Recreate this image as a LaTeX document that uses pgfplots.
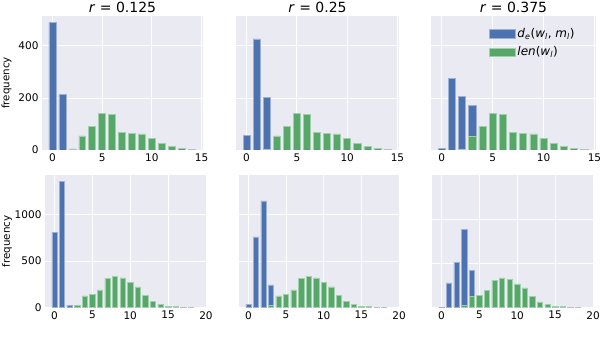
\documentclass[border=0pt]{standalone}
\usepackage{fontspec}
\setmainfont{DejaVu Sans}
\usepackage{pgfplots}
\usepackage{pgfplotstable}
\pgfplotsset{compat=1.18}

\definecolor{sbblue}{HTML}{4C72B0}
\definecolor{sbgreen}{HTML}{55A868}
\definecolor{sbbg}{HTML}{EAEAF2}

% len(w_l), same in every panel of a row
\pgfplotstableread{
x y
2 4
3 54
4 90
5 141
6 138
7 69
8 64
9 62
10 46
11 25
12 13
13 5
14 3
}\lentop
\pgfplotstableread{
x y
3 27
4 128
5 140
6 192
7 312
8 337
9 320
10 270
11 224
12 130
13 66
14 35
15 17
16 13
17 6
18 4
}\lenbot

% d_e(w_l, m_l)
\pgfplotstableread{
x y
0 490
1 213
}\dA
\pgfplotstableread{
x y
0 56
1 427
2 203
}\dB
\pgfplotstableread{
x y
0 5
1 276
2 205
3 172
}\dC
\pgfplotstableread{
x y
0 805
1 1355
2 25
}\dD
\pgfplotstableread{
x y
0 32
1 760
2 1148
3 246
}\dE
\pgfplotstableread{
x y
0 3
1 282
2 515
3 885
4 423
}\dF

\newcommand\tfont{\fontsize{10.5}{12}\selectfont}

\pgfplotsset{
  every axis title shift=0pt,
  sb/.style={
    scale only axis, anchor=south west,
    axis background/.style={fill=sbbg},
    axis line style={draw=none},
    major tick length=0pt,
    grid=major, grid style={white, line width=0.9pt},
    tick label style={font=\tfont},
    /pgf/number format/assume math mode=true,
    /pgf/number format/1000 sep={},
    ymin=0,
    title style={font=\fontsize{14}{16}\selectfont, at={(0.5,1)}, anchor=base, yshift=3.5pt},
    every axis y label/.style={at={(axis description cs:#1,0.5)}, rotate=90, anchor=center, font=\fontsize{10.3}{12}\selectfont},
  },
  sb/.default={-0.22},
  top/.style={xmin=-1.05, xmax=15.15, ymax=515, xtick={0,5,10,15}, ytick={0,200,400}},
  bot/.style={xmin=-1.25, xmax=20, xtick={0,5,10,15,20}, ytick={0,500,1000}},
  dbar/.style={ybar, bar shift=0pt, bar width=0.7, fill=sbblue, draw=sbblue!55!white, line width=0.5pt},
  lbar/.style={ybar, bar shift=0pt, bar width=0.7, fill=sbgreen, draw=sbgreen!55!white, line width=0.5pt},
}

\begin{document}
\begin{tikzpicture}
\path[use as bounding box] (0pt,0pt) rectangle (600pt,356pt);

% top row
\begin{axis}[sb, top, at={(42pt,206pt)}, width=161pt, height=134pt,
  title={\textit{r} = 0.125}, ylabel={frequency}]
\addplot[dbar] table[x=x,y=y] {\dA};
\addplot[lbar] table[x=x,y=y] {\lentop};
\end{axis}

\begin{axis}[sb, top, at={(236pt,206pt)}, width=163pt, height=134pt,
  title={\textit{r} = 0.25}, yticklabels={}]
\addplot[dbar] table[x=x,y=y] {\dB};
\addplot[lbar] table[x=x,y=y] {\lentop};
\end{axis}

\begin{axis}[sb, top, at={(431pt,206pt)}, width=165pt, height=134pt,
  title={\textit{r} = 0.375}, yticklabels={},
  legend style={draw=none, fill=none, at={(0.352,0.925)}, anchor=north west,
    font=\fontsize{12}{14}\selectfont, row sep=4pt, inner sep=0pt},
  legend cell align=left,
  legend image code/.code={\fill[#1] (0pt,-4.3pt) rectangle (25.7pt,4.3pt);}]
\addplot[dbar] table[x=x,y=y] {\dC};
\addlegendentry{\textit{d}\textsubscript{\textit{e}}(\textit{w}\textsubscript{\textit{l}}, \textit{m}\textsubscript{\textit{l}})}
\addplot[lbar] table[x=x,y=y] {\lentop};
\addlegendentry{\textit{len}(\textit{w}\textsubscript{\textit{l}})}
\end{axis}

% bottom row
\begin{axis}[sb={-0.236}, bot, at={(45pt,48.3pt)}, width=161pt, height=132.7pt,
  ymax=1425, ylabel={frequency}]
\addplot[dbar] table[x=x,y=y] {\dD};
\addplot[lbar] table[x=x,y=y] {\lenbot};
\end{axis}

\begin{axis}[sb, bot, at={(239pt,48.3pt)}, width=160pt, height=132.7pt,
  ymax=1425, yticklabels={}]
\addplot[dbar] table[x=x,y=y] {\dE};
\addplot[lbar] table[x=x,y=y] {\lenbot};
\end{axis}

\begin{axis}[sb, bot, at={(432pt,48.3pt)}, width=161pt, height=132.7pt,
  ymax=1500, yticklabels={}]
\addplot[dbar] table[x=x,y=y] {\dF};
\addplot[lbar] table[x=x,y=y] {\lenbot};
\end{axis}
\end{tikzpicture}
\end{document}
